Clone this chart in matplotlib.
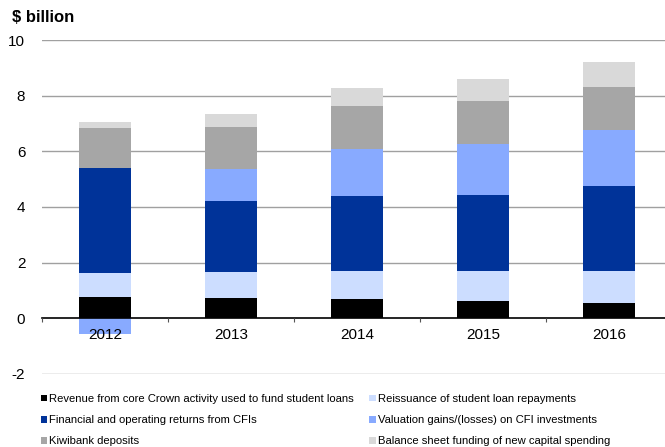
import matplotlib.pyplot as plt
from matplotlib.patches import Patch
import numpy as np

plt.rcParams['font.family'] = ['Liberation Sans', 'DejaVu Sans']

# Data ($ billion)
years = ['2012', '2013', '2014', '2015', '2016']
core_crown = [0.77, 0.71, 0.68, 0.61, 0.53]
reissuance = [0.84, 0.94, 1.03, 1.10, 1.18]
cfi_returns = [3.81, 2.58, 2.70, 2.71, 3.05]
cfi_valuation = [-0.58, 1.13, 1.68, 1.86, 2.03]
kiwibank = [1.44, 1.51, 1.55, 1.55, 1.55]
capital_funding = [0.19, 0.47, 0.66, 0.79, 0.90]

series = [
    ('Revenue from core Crown activity used to fund student loans', core_crown, '#000000'),
    ('Reissuance of student loan repayments', reissuance, '#CCDDFF'),
    ('Financial and operating returns from CFIs', cfi_returns, '#003399'),
    ('Valuation gains/(losses) on CFI investments', cfi_valuation, '#88AAFF'),
    ('Kiwibank deposits', kiwibank, '#A6A6A6'),
    ('Balance sheet funding of new capital spending', capital_funding, '#D9D9D9'),
]

fig = plt.figure(figsize=(6.65, 4.47), dpi=100)
ax = fig.add_axes([42 / 665, 1 - 373.5 / 447, 630 / 665, 333 / 447])

x = np.arange(len(years))
pos_base = np.zeros(len(years))
neg_base = np.zeros(len(years))
handles = []
for label, vals, color in series:
    vals = np.array(vals)
    bottoms = np.where(vals >= 0, pos_base, neg_base)
    ax.bar(x, vals, width=0.405, bottom=bottoms, color=color, linewidth=0, zorder=2)
    pos_base += np.clip(vals, 0, None)
    neg_base += np.clip(vals, None, 0)
    handles.append(Patch(facecolor=color, label=label))

ax.set_xlim(-0.5, 4.5)
ax.set_ylim(-2, 10)

# gridlines
for yv in [-2, 2, 4, 6, 8, 10]:
    ax.axhline(yv, color='#A0A0A0', linewidth=1.0, zorder=1)

for s in ['top', 'right', 'left']:
    ax.spines[s].set_visible(False)
ax.spines['bottom'].set_position(('data', 0))
ax.spines['bottom'].set_color('black')
ax.spines['bottom'].set_linewidth(1.2)
ax.spines['bottom'].set_zorder(3)
ax.xaxis.set_zorder(3)  # year labels sit on top of the negative bar

ax.set_xticks(x)
ax.set_xticklabels(years, fontsize=11)
ax.set_xticks(np.arange(-0.5, 5, 1), minor=True)
ax.tick_params(axis='x', which='major', length=0, pad=7)
ax.tick_params(axis='x', which='minor', length=3, width=0.8, color='#555555', direction='out')

ax.set_yticks([-2, 0, 2, 4, 6, 8, 10])
ax.set_yticklabels(['-2', '0', '2', '4', '6', '8', '10'], fontsize=11)
ax.tick_params(axis='y', length=0, pad=12)

fig.text(12 / 665, 1 - 18 / 447, '$ billion', fontsize=12, fontweight='bold', va='center', ha='left')

# legend, filled row by row
order = [0, 2, 4, 1, 3, 5]
fig.legend([handles[i] for i in order], [handles[i].get_label() for i in order],
           ncol=2, loc='upper left', bbox_to_anchor=(41 / 665, 1 - 394 / 447),
           frameon=False, fontsize=8.1, handlelength=0.55, handleheight=0.55,
           handletextpad=0.2, columnspacing=1.35, labelspacing=1.0,
           borderpad=0, borderaxespad=0)

plt.savefig('out.png', dpi=100)
